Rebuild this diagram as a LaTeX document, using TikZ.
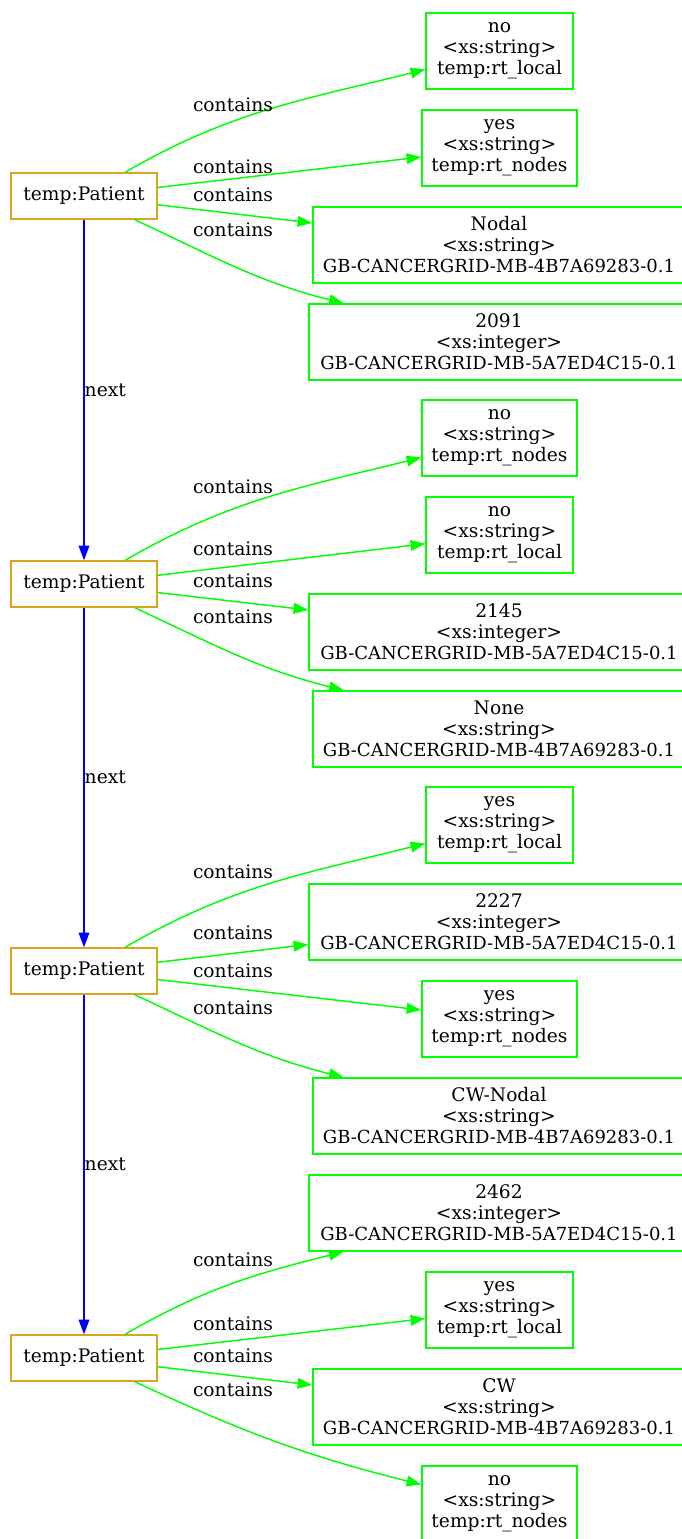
\documentclass[tikz,border=0pt]{standalone}
\usepackage{fontspec}
\setmainfont{DejaVu Serif}
\usetikzlibrary{arrows.meta}
\definecolor{patientgold}{RGB}{218,165,32}
\definecolor{valgreen}{RGB}{0,255,0}
\newcommand{\gbid}[1]{{\fontsize{13.5pt}{15.75pt}\selectfont GB-CANCERGRID-MB-#1-0.1}}

\begin{document}
\begin{tikzpicture}[x=0.75pt,y=0.75pt,
    every node/.style={font=\fontsize{14pt}{15.75pt}\selectfont,text=black},
    patient/.style={draw=patientgold,line width=1.1pt,minimum width=109.5pt,minimum height=34.5pt,inner sep=0pt},
    valbox/.style={draw=valgreen,line width=1.1pt,align=center,minimum height=57pt,inner sep=0pt},
    rtlocal/.style={valbox,minimum width=110.25pt},
    rtnodes/.style={valbox,minimum width=116.25pt},
    grid4b/.style={valbox,minimum width=279pt},
    grid5a/.style={valbox,minimum width=285pt},
    containsedge/.style={valgreen,line width=1.1pt,-{Triangle[length=11pt,width=8pt]}},
    nextedge/.style={blue,line width=1.1pt,-{Triangle[length=11pt,width=8pt]}}]
    \useasboundingbox (0,0) rectangle (682,-1539);
    \node[patient] (p1) at (84,-196) {temp:Patient};
    \node[patient] (p2) at (84,-584) {temp:Patient};
    \node[patient] (p3) at (84,-971) {temp:Patient};
    \node[patient] (p4) at (84,-1358) {temp:Patient};
    % first patient
    \node[rtlocal] (v11) at (499.5,-51) {no\\<xs:string>\\temp:rt\_local};
    \node[rtnodes] (v12) at (499.5,-148) {yes\\<xs:string>\\temp:rt\_nodes};
    \node[grid4b] (v13) at (499,-245) {Nodal\\<xs:string>\\\gbid{4B7A69283}};
    \node[grid5a] (v14) at (499,-342) {2091\\<xs:integer>\\\gbid{5A7ED4C15}};
    % second patient
    \node[rtnodes] (v21) at (499.5,-438) {no\\<xs:string>\\temp:rt\_nodes};
    \node[rtlocal] (v22) at (499.5,-535) {no\\<xs:string>\\temp:rt\_local};
    \node[grid5a] (v23) at (499,-632) {2145\\<xs:integer>\\\gbid{5A7ED4C15}};
    \node[grid4b] (v24) at (499,-729) {None\\<xs:string>\\\gbid{4B7A69283}};
    % third patient
    \node[rtlocal] (v31) at (499.5,-825) {yes\\<xs:string>\\temp:rt\_local};
    \node[grid5a] (v32) at (499,-922) {2227\\<xs:integer>\\\gbid{5A7ED4C15}};
    \node[rtnodes] (v33) at (499.5,-1019) {yes\\<xs:string>\\temp:rt\_nodes};
    \node[grid4b] (v34) at (499,-1116) {CW-Nodal\\<xs:string>\\\gbid{4B7A69283}};
    % fourth patient
    \node[grid5a] (v41) at (499,-1213) {2462\\<xs:integer>\\\gbid{5A7ED4C15}};
    \node[rtlocal] (v42) at (499.5,-1310) {yes\\<xs:string>\\temp:rt\_local};
    \node[grid4b] (v43) at (499,-1407) {CW\\<xs:string>\\\gbid{4B7A69283}};
    \node[rtnodes] (v44) at (499.5,-1504) {no\\<xs:string>\\temp:rt\_nodes};
    \foreach \g in {1,2,3,4} {
        \draw[containsedge] (p\g) to[out=30,in=194] (v\g1);
        \draw[containsedge] (p\g) -- (v\g2);
        \draw[containsedge] (p\g) -- (v\g3);
        \draw[containsedge] (p\g) to[out=-25,in=166] (v\g4);
    }
    \foreach \y [count=\i] in {105,167,195,230,487,549,581,617,872,933,971,1008,1260,1324,1356,1390}
    \node (c\i) at (233,-\y) {contains};
    \foreach \a/\b in {1/2,2/3,3/4}
    \draw[nextedge] (p\a) -- node[midway,right,inner sep=0pt] (n\a) {next} (p\b);
\end{tikzpicture}
\end{document}
